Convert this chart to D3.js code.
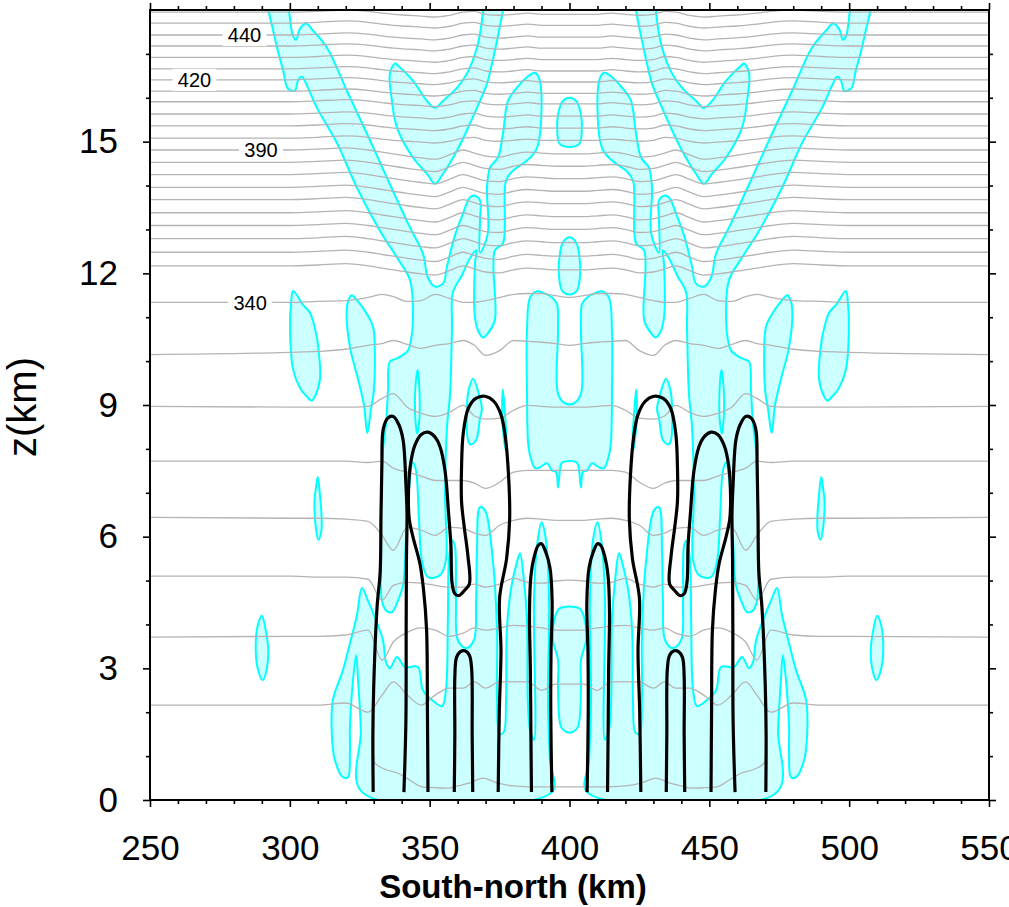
<!DOCTYPE html>
<html><head><meta charset="utf-8">
<script src="https://cdn.jsdelivr.net/npm/d3@7"></script>
<style>
html,body{margin:0;padding:0;background:#fff;}
svg{display:block;font-family:"Liberation Sans",Arial,Helvetica,sans-serif;}
</style></head><body>
<svg id="chart" width="1009" height="907"></svg>
<script>
// ---------------- DATA ----------------
const xDomain = [250, 550];
const zDomain = [0, 18];
const xTickValues = [250, 300, 350, 400, 450, 500, 550];
const zTickValues = [0, 3, 6, 9, 12, 15];
const xMinorTicks = [260,270,280,290,310,320,330,340,360,370,380,390,410,420,430,440,460,470,480,490,510,520,530,540];
const zMinorTicks = [1,2,4,5,7,8,10,11,13,14,16,17];
const centerKm = 400; // section is symmetric about 400 km

// potential temperature (K) contours: heights (km) at the nodes of the southern half
const thetaNodesKm = [250,300,310,320,328,333,337,342,347,352,357,362,366,370,375,380,385,390,395,400];
const theta305 = [2.16,2.16,2.16,2.21,2.00,2.39,2.69,2.39,2.16,2.39,2.55,2.55,2.69,2.55,2.69,2.69,2.69,2.50,2.64,2.64];
const theta310 = [3.71,3.73,3.73,3.76,3.87,3.19,3.60,3.82,3.92,3.87,3.73,3.80,3.92,3.87,3.92,3.98,3.96,3.92,3.87,3.87];
const theta315 = [5.10,5.10,5.08,5.08,5.03,4.55,4.89,4.96,4.94,4.89,4.85,4.85,4.92,4.85,4.92,5.05,4.96,4.94,4.99,5.01];
const theta320 = [6.44,6.42,6.42,6.40,6.35,6.03,5.69,6.21,6.15,6.03,6.21,6.19,6.08,6.03,6.26,6.37,6.42,6.40,6.37,6.37];
const theta325 = [7.72,7.72,7.72,7.72,7.69,7.72,7.56,7.47,7.38,7.28,7.28,7.28,7.22,7.10,7.24,7.47,7.51,7.51,7.51,7.51];
const theta330 = [8.97,8.95,8.95,8.95,8.97,9.15,9.26,8.95,8.81,8.74,8.83,8.99,8.75,8.68,8.70,8.88,8.99,8.97,8.95,8.95];
const theta335 = [10.15,10.20,10.22,10.27,10.36,10.40,10.47,10.38,10.29,10.36,10.40,10.47,10.36,10.13,10.24,10.47,10.45,10.43,10.40,10.36];
const theta340 = [11.34,11.34,11.36,11.38,11.45,11.52,11.47,11.36,11.38,11.52,11.43,11.34,11.34,11.38,11.45,11.52,11.54,11.54,11.49,11.45];
// the 300 K contour only exists near the ground in the centre
const theta300X = [329.5,330.4,334,338.7,343,347.2,352,356.5,360,364.4,369.1,374.1,380,387,393,400];
const theta300Z = [1.30,0.84,0.70,0.61,0.45,0.30,0.28,0.27,0.32,0.39,0.50,0.39,0.32,0.30,0.30,0.30];
// upper contours: level, height at the southern boundary, and their wave offsets
const thetaUpperLevels = [345,350,355,360,365,370,375,380,385,390,395,400,405,410,415,420,425,430,435,440,445,450];
const thetaUpperBase   = [12.17,12.48,12.79,13.09,13.38,13.68,13.96,14.25,14.53,14.81,15.08,15.36,15.63,15.91,16.15,16.41,16.66,16.92,17.18,17.43,17.70,17.95];
const waveLowerStrat = [0,0,0.02,0.05,0,-0.05,-0.09,-0.14,-0.18,-0.21,-0.11,0,-0.07,-0.14,-0.16,-0.09,-0.05,-0.07,-0.09,-0.09];
const waveUpperStrat = [0,0,0.02,0.05,0.02,-0.02,-0.05,-0.07,-0.09,-0.11,-0.07,0,0.02,-0.05,-0.07,-0.05,-0.02,-0.05,-0.05,-0.05];
const thetaLabelLevels = [440, 420, 390, 340];
const thetaLabelKm     = [283.8, 265.9, 289.7, 285.8];

// black contours (southern half, km / km)
const blackB1 = [[329.8,0.18],[329.7,1.5],[330.0,2.6],[331.2,4.4],[332.3,5.2],[332.6,6.5],[332.9,7.6],[333.4,8.45],[335.0,8.7],[337.0,8.74],[339.0,8.55],[340.5,8.2],[341.5,7.2],[341.9,6.5],[341.7,5.5],[341.6,4.0],[341.5,1.8],[340.8,0.18]];
const blackB2 = [[349.4,0.18],[349.2,2.0],[348.9,3.87],[347.8,4.8],[346.5,5.39],[344.0,6.0],[342.7,6.4],[342.4,6.9],[343.0,7.58],[344.7,8.08],[347.0,8.33],[349.4,8.38],[351.8,8.28],[353.7,8.05],[355.5,7.5],[356.8,6.5],[357.6,5.8],[358.0,4.95],[359.0,4.7],[360.5,4.66],[362.5,4.78],[364.2,4.92],[363.6,5.6],[362.4,6.2],[361.4,6.8],[361.4,7.6],[362.0,8.35],[363.8,8.92],[366.5,9.15],[369.8,9.2],[373.0,9.08],[375.5,8.78],[377.0,8.3],[378.2,7.4],[378.6,6.4],[377.5,5.5],[375.0,4.6],[375.5,3.4],[374.9,2.0],[374.5,0.18]];
const blackB4 = [[358.8,0.18],[359.0,1.5],[359.0,2.8],[359.6,3.25],[361.0,3.38],[362.6,3.4],[364.2,3.3],[365.0,3.0],[365.2,1.5],[365.4,0.18]];
const blackB5 = [[386.4,0.18],[386.2,1.5],[386.0,3.0],[385.7,4.3],[386.2,5.1],[387.4,5.55],[388.8,5.8],[390.0,5.84],[391.5,5.65],[393.0,5.3],[393.8,4.5],[393.4,3.4],[393.3,2.0],[393.7,0.18]];

// cyan (cloud) regions, southern half
const cyanBandTrunk = [[292.2,18.44],[294.7,17.35],[297.6,16.62],[299.3,16.21],[301.8,16.16],[302.9,16.39],[304.3,16.48],[306.1,16.28],[309.7,15.77],[316.9,14.96],[324.0,13.95],[332.2,12.97],[338.3,12.36],[343.0,11.84],[344.0,10.93],[343.3,10.47],[342.2,10.24],[338.3,10.06],[335.8,9.99],[335.1,9.33],[334.4,8.58],[333.3,7.97],[332.6,6.83],[332.6,5.46],[332.9,4.55],[334.4,4.32],[336.5,4.28],[338.7,4.55],[340.5,4.89],[341.5,5.92],[342.6,7.06],[344.0,7.69],[345.1,7.51],[346.2,6.37],[347.2,5.46],[349.4,5.08],[353.7,5.12],[355.8,5.46],[355.5,6.99],[356.2,8.49],[357.3,9.26],[358.0,10.77],[358.3,11.56],[361.5,11.95],[364.4,12.34],[366.6,12.52],[366.2,12.22],[366.2,10.99],[367.6,10.65],[369.1,10.54],[370.8,10.63],[373.3,10.93],[373.3,12.52],[376.2,12.68],[377.3,14.11],[379.8,14.34],[384.8,14.57],[388.4,14.86],[389.4,16.39],[387.6,16.57],[384.1,16.43],[381.2,16.23],[378.0,15.93],[376.2,15.18],[374.4,14.64],[371.6,14.41],[370.5,13.95],[370.8,12.91],[368.0,12.47],[368.0,13.20],[368.0,13.66],[366.2,13.77],[364.4,13.73],[361.9,13.36],[359.0,12.86],[356.2,12.16],[354.8,11.77],[351.9,11.70],[349.4,11.90],[347.6,12.45],[343.0,13.04],[334.7,14.18],[327.6,15.18],[320.4,16.16],[313.3,17.14],[308.3,17.53],[305.8,17.69],[303.6,17.57],[302.2,17.32],[301.1,17.41],[297.6,18.44]];
const cyanV = [[337.6,16.78],[338.7,16.73],[344.0,16.39],[349.0,15.93],[351.9,15.77],[354.8,15.93],[359.8,16.23],[363.3,16.55],[366.9,17.14],[369.1,17.98],[369.4,18.44],[377.3,18.44],[376.2,17.98],[373.3,17.07],[370.5,16.32],[368.0,15.93],[364.4,15.41],[359.8,14.80],[354.8,14.27],[351.9,14.04],[349.0,14.27],[344.0,14.64],[338.3,15.32],[336.5,15.93],[335.8,16.57]];
const cyanOvalWest = [[301.2,11.6],[304.5,11.3],[307.2,11.1],[309.5,10.6],[310.2,10.3],[310.8,9.6],[309.0,9.2],[307.8,9.1],[306.0,9.2],[304.2,9.33],[301.2,9.8],[300.1,10.7],[300.4,11.3]];
const cyanOvalInner = [[322.1,11.5],[324.5,11.35],[327.5,11.08],[329.8,10.77],[330.4,10.0],[330.0,9.3],[329.0,8.9],[327.7,8.36],[326.5,9.0],[324.5,9.56],[321.5,10.32],[320.3,11.08],[320.9,11.38]];
const cyanSliverMid = [[310.0,7.36],[310.7,7.0],[311.4,6.4],[311.2,6.1],[310.2,5.93],[309.3,6.2],[308.8,6.8],[309.3,7.1]];
const cyanSliverLow = [[290.0,4.2],[291.3,3.9],[292.3,3.4],[291.8,3.0],[290.3,2.73],[288.5,3.0],[287.8,3.5],[288.6,4.0]];
const cyanSpikeA = [[365.5,9.6],[367.8,9.2],[368.7,8.9],[368.0,8.7],[366.6,8.2],[364.6,8.1],[363.7,8.2],[363.3,8.9],[363.8,9.3]];
const cyanSpikeB = [[376.2,9.35],[376.9,8.8],[377.4,8.3],[377.0,8.0],[376.3,8.4],[375.9,8.9]];
const cyanLower = [[325.8,4.83],[324.0,4.21],[321.5,3.57],[319.0,2.96],[315.4,2.28],[315.0,1.53],[316.1,0.91],[319.0,0.52],[320.8,0.52],[321.5,1.07],[321.5,1.66],[322.6,2.73],[323.7,3.30],[324.4,2.73],[325.4,1.59],[325.8,0.18],[393.7,0.18],[393.0,0.91],[392.3,2.28],[392.7,4.55],[391.6,5.92],[390.0,6.33],[388.4,5.80],[387.3,4.55],[387.3,1.37],[385.9,1.59],[385.1,2.28],[384.8,4.10],[383.7,5.01],[382.3,5.62],[380.9,5.35],[379.0,4.78],[377.6,3.87],[377.3,2.28],[376.5,1.55],[375.0,1.50],[374.1,2.28],[374.1,3.80],[372.6,5.46],[369.8,6.60],[368.0,6.67],[366.9,5.62],[366.6,4.55],[365.8,3.64],[363.0,3.46],[360.1,3.64],[359.4,4.55],[359.0,5.80],[358.0,5.92],[356.9,5.46],[356.5,4.10],[355.8,2.50],[354.4,2.14],[350.8,2.28],[347.6,2.50],[345.8,3.03],[341.2,3.03],[338.3,3.26],[335.8,3.00],[334.4,3.14],[333.3,3.64],[330.8,4.10],[327.9,4.55]];
const clearSlot = [[345.7,9.8],[346.4,9.2],[346.2,8.6],[345.5,8.35],[344.8,8.8],[344.9,9.4]];
// centre-line cyan regions (drawn whole)
const cyanCentreTop = [[400,16.0],[402.5,15.92],[404.0,15.65],[404.4,15.25],[403.5,14.95],[400,14.88],[396.5,14.95],[395.6,15.25],[396.0,15.65],[397.5,15.92]];
const cyanCentreMid = [[400,12.82],[402.4,12.7],[403.6,12.35],[403.7,11.9],[402.6,11.6],[400,11.52],[397.4,11.6],[396.3,11.9],[396.4,12.35],[397.6,12.7]];
const cyanCentreLow = [[396.6,4.37],[403.4,4.37],[405.2,4.17],[405.9,3.64],[404.1,3.19],[404.1,2.50],[403.0,1.66],[401.2,1.55],[400,1.53],[398.8,1.55],[397.0,1.66],[395.9,2.50],[395.9,3.19],[394.1,3.64],[394.8,4.17]];
const cyanBlockTopHalf = [[384.8,10.70],[385.9,11.45],[388.4,11.59],[390.5,11.56],[393.7,11.45],[395.5,11.31],[395.9,10.70],[395.9,9.26],[398.4,9.04]];
const cyanBlockBottomHalf = [[397.4,7.69],[396.6,7.51],[395.9,7.12],[395.2,7.47],[393.7,7.51],[392.0,7.67],[389.4,7.58],[387.7,7.56],[385.9,7.85],[385.2,8.13],[384.8,9.26]];

// ---------------- DRAW ----------------
const svg = d3.select("#chart");
const xS = d3.scaleLinear().domain(xDomain).range([150, 989]);
const yS = d3.scaleLinear().domain(zDomain).range([800, 10]);
const mirror = p => [2 * centerKm - p[0], p[1]];

svg.append("defs").append("clipPath").attr("id", "plotclip")
  .append("rect").attr("x", xS(250)).attr("y", yS(18)).attr("width", xS(550) - xS(250)).attr("height", yS(0) - yS(18));
const plot = svg.append("g").attr("clip-path", "url(#plotclip)");

const closedLine = d3.line().x(d => xS(d[0])).y(d => yS(d[1])).curve(d3.curveCatmullRomClosed.alpha(0.5));
const openLine = d3.line().x(d => xS(d[0])).y(d => yS(d[1])).curve(d3.curveCatmullRom.alpha(0.5));
const grayLine = d3.line().x(d => xS(d[0])).y(d => yS(d[1])).curve(d3.curveMonotoneX);

// cyan regions
const halfShapes = [cyanBandTrunk, cyanV, cyanOvalWest, cyanOvalInner, cyanSliverMid, cyanSliverLow, cyanSpikeA, cyanSpikeB, cyanLower];
const block = [...cyanBlockTopHalf,
  ...cyanBlockTopHalf.slice().reverse().map(mirror),
  ...cyanBlockBottomHalf.slice().reverse().map(mirror),
  ...cyanBlockBottomHalf];
const cyanShapes = [];
halfShapes.forEach(s => { cyanShapes.push(s); cyanShapes.push(s.map(mirror).reverse()); });
cyanShapes.push(cyanCentreTop, cyanCentreMid, cyanCentreLow, block);

plot.append("g").selectAll("path").data(cyanShapes).join("path")
  .attr("d", closedLine).attr("fill", "#ccffff").attr("stroke", "#00ffff").attr("stroke-width", 2).attr("stroke-linejoin", "round");
plot.append("g").selectAll("path").data([clearSlot, clearSlot.map(mirror).reverse()]).join("path")
  .attr("d", closedLine).attr("fill", "#ffffff").attr("stroke", "#00ffff").attr("stroke-width", 2);

// theta contours
function fullProfile(zs) {
  const pts = thetaNodesKm.map((x, i) => [x, zs[i]]);
  const right = pts.slice(0, -1).reverse().map(mirror);
  return pts.concat(right);
}
const thetaLines = [];
[[305, theta305],[310, theta310],[315, theta315],[320, theta320],[325, theta325],[330, theta330],[335, theta335],[340, theta340]]
  .forEach(([v, zs]) => thetaLines.push({ v, pts: fullProfile(zs) }));
thetaUpperLevels.forEach((v, k) => {
  const wave = v <= 390 ? waveLowerStrat : waveUpperStrat;
  thetaLines.push({ v, pts: fullProfile(wave.map(w => thetaUpperBase[k] + w)) });
});
const t300 = theta300X.map((x, i) => [x, theta300Z[i]]);
thetaLines.push({ v: 300, pts: t300.concat(t300.slice(0, -1).reverse().map(mirror)) });

plot.append("g").selectAll("path").data(thetaLines).join("path")
  .attr("d", d => grayLine(d.pts)).attr("fill", "none").attr("stroke", "#b4b4b4").attr("stroke-width", 1.3);

// contour labels
const labG = plot.append("g");
thetaLabelLevels.forEach((v, i) => {
  const line = thetaLines.find(l => l.v === v);
  const xk = thetaLabelKm[i];
  const zk = line.pts[0][1];
  const cx = xS(xk), cy = yS(zk);
  labG.append("rect").attr("x", cx - 22).attr("y", cy - 11).attr("width", 44).attr("height", 22).attr("fill", "#fff");
  labG.append("text").attr("x", cx).attr("y", cy).attr("dy", "0.36em").attr("text-anchor", "middle")
    .style("font-size", "20px").text(v);
});

// black contours
const blackHalf = [blackB1, blackB2, blackB4, blackB5];
const blackAll = [];
blackHalf.forEach(s => { blackAll.push(s); blackAll.push(s.map(mirror)); });
plot.append("g").selectAll("path").data(blackAll).join("path")
  .attr("d", openLine).attr("fill", "none").attr("stroke", "#000").attr("stroke-width", 3.2).attr("stroke-linejoin", "round");

// axes
function styleAxis(g, withText) {
  g.select(".domain").remove();
  g.selectAll("line").attr("stroke", "#000").attr("stroke-width", 1.6);
  if (withText) g.selectAll("text").style("font-size", "35px").attr("fill", "#000")
    .style("font-family", '"Liberation Sans", Arial, Helvetica, sans-serif');
}
const fmt = d3.format("d");
svg.append("g").attr("transform", `translate(0,${yS(0)})`)
  .call(d3.axisBottom(xS).tickValues(xTickValues).tickSize(7).tickPadding(28).tickFormat(fmt)).call(g => styleAxis(g, true));
svg.append("g").attr("transform", `translate(0,${yS(0)})`)
  .call(d3.axisBottom(xS).tickValues(xMinorTicks).tickSize(4).tickFormat("")).call(g => styleAxis(g, false));
svg.append("g").attr("transform", `translate(0,${yS(18)})`)
  .call(d3.axisTop(xS).tickValues(xTickValues).tickSize(7).tickFormat("")).call(g => styleAxis(g, false));
svg.append("g").attr("transform", `translate(0,${yS(18)})`)
  .call(d3.axisTop(xS).tickValues(xMinorTicks).tickSize(4).tickFormat("")).call(g => styleAxis(g, false));
svg.append("g").attr("transform", `translate(${xS(250)},0)`)
  .call(d3.axisLeft(yS).tickValues(zTickValues).tickSize(7).tickPadding(25).tickFormat(fmt)).call(g => styleAxis(g, true));
svg.append("g").attr("transform", `translate(${xS(250)},0)`)
  .call(d3.axisLeft(yS).tickValues(zMinorTicks).tickSize(4).tickFormat("")).call(g => styleAxis(g, false));
svg.append("g").attr("transform", `translate(${xS(550)},0)`)
  .call(d3.axisRight(yS).tickValues(zTickValues).tickSize(7).tickFormat("")).call(g => styleAxis(g, false));
svg.append("g").attr("transform", `translate(${xS(550)},0)`)
  .call(d3.axisRight(yS).tickValues(zMinorTicks).tickSize(4).tickFormat("")).call(g => styleAxis(g, false));

svg.append("rect").attr("x", xS(250)).attr("y", yS(18)).attr("width", xS(550) - xS(250)).attr("height", yS(0) - yS(18))
  .attr("fill", "none").attr("stroke", "#000").attr("stroke-width", 2);

svg.append("text").attr("x", 513).attr("y", 898).attr("text-anchor", "middle")
  .style("font-size", "33px").style("font-weight", "bold").text("South-north (km)");
svg.append("text").attr("transform", "translate(36,407) rotate(-90)").attr("text-anchor", "middle")
  .style("font-size", "40px").text("z(km)");
</script></body></html>
